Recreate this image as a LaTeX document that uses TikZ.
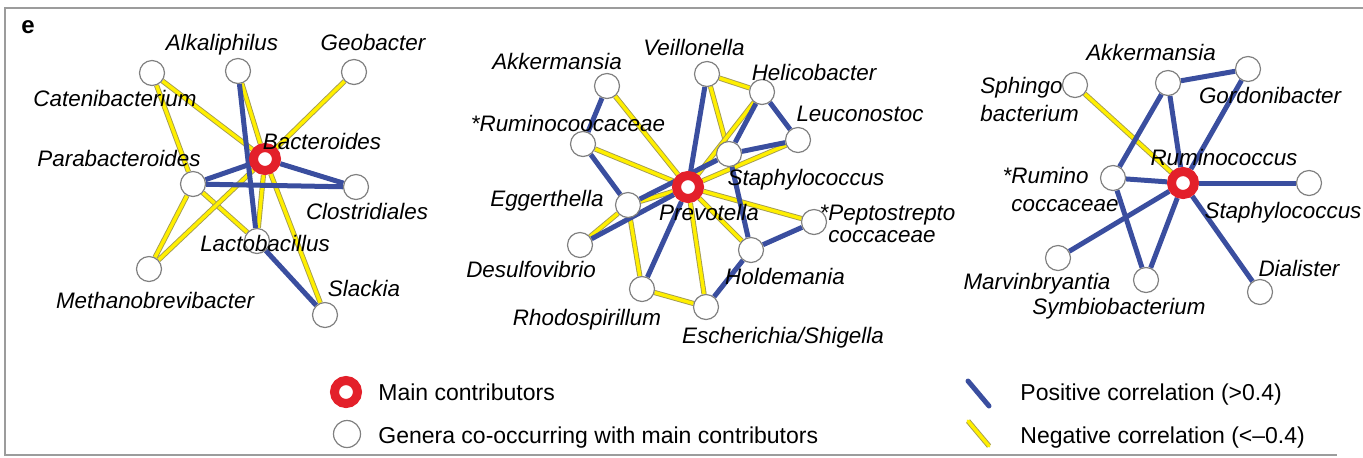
\documentclass[tikz,border=0pt]{standalone}
\usepackage{fontspec}
\setmainfont{Liberation Sans}
\usetikzlibrary{backgrounds}
\definecolor{posblue}{HTML}{3A4E9F}
\definecolor{negyellow}{HTML}{FFEF00}
\definecolor{negedge}{HTML}{A39B52}
\definecolor{mainred}{HTML}{E3202A}
\definecolor{ringgray}{HTML}{808080}
\definecolor{framegray}{HTML}{9C9C9C}

\begin{document}
\begin{tikzpicture}[x=0.5pt, y=-0.5pt,
  genus/.style={font=\fontsize{11.2}{14}\selectfont\itshape, inner sep=0pt, text height=8pt, text depth=0pt},
  genustwo/.style={font=\fontsize{11.2}{14}\selectfont\itshape, inner sep=0pt, align=left, anchor=north west},
  keytext/.style={font=\fontsize{11.5}{14}\selectfont, inner sep=0pt, anchor=west, text height=8.2pt, text depth=0pt},
  main/.style={circle, draw=mainred, line width=4.5pt, fill=white, minimum size=11.5pt, inner sep=0pt},
  gen/.style={circle, draw=ringgray, line width=0.6pt, fill=white, minimum size=12.5pt, inner sep=0pt},
  posline/.style={draw=posblue, line width=2.5pt},
  negline/.style={draw=negyellow, line width=1.7pt, preaction={draw=negedge, line width=2.6pt}},
]
  \useasboundingbox (0,0) rectangle (1363,457);
  % panel frame, open on the right
  \draw[framegray, line width=1pt] (1363,8) -- (5,8) -- (5,455) -- (1337,455);
  \node[font=\fontsize{12}{14}\selectfont\bfseries, inner sep=0pt] (tag) at (28,27) {e};

  % network 1: Bacteroides
  \node[main] (bact) at (265,159) {};
  \node[gen] (cate) at (152,73) {};
  \node[gen] (alka) at (238,71) {};
  \node[gen] (geob) at (354,72) {};
  \node[gen] (para) at (193,184) {};
  \node[gen] (clos) at (356,187) {};
  \node[gen] (lact) at (257,241) {};
  \node[gen] (meth) at (149,269) {};
  \node[gen] (slac) at (325,315) {};
  \node[genus] at (222,42) {Alkaliphilus};
  \node[genus] at (373,42) {Geobacter};
  \node[genus] at (115,98) {Catenibacterium};
  \node[genus] at (322,141) {Bacteroides};
  \node[genus] at (119,158) {Parabacteroides};
  \node[genus] at (367,211) {Clostridiales};
  \node[genus] at (265,243) {Lactobacillus};
  \node[genus] at (155,300) {Methanobrevibacter};
  \node[genus] at (364,288) {Slackia};

  % network 2: Prevotella
  \node[main] (prev) at (688,187) {};
  \node[gen] (akkA) at (607,86) {};
  \node[gen] (veil) at (707,74) {};
  \node[gen] (heli) at (762,92) {};
  \node[gen] (rumA) at (583,144) {};
  \node[gen] (leuc) at (798,140) {};
  \node[gen] (staA) at (729,154) {};
  \node[gen] (egge) at (628,205) {};
  \node[gen] (pept) at (814,222) {};
  \node[gen] (desu) at (580,245) {};
  \node[gen] (hold) at (751,250) {};
  \node[gen] (rhod) at (642,289) {};
  \node[gen] (esch) at (706,307) {};
  \node[genus] at (557,61) {Akkermansia};
  \node[genus] at (694,47) {Veillonella};
  \node[genus] at (814,72) {Helicobacter};
  \node[genus] at (568,123) {*Ruminocoocaceae};
  \node[genus] at (860,113) {Leuconostoc};
  \node[genus] at (806,177) {Staphylococcus};
  \node[genus] at (547,198) {Eggerthella};
  \node[genus] at (709,212) {Prevotella};
  \node[genustwo] at (828,205) {\llap{*}Peptostrepto\\[-3pt]coccaceae};
  \node[genus] at (531,269) {Desulfovibrio};
  \node[genus] at (785,276) {Holdemania};
  \node[genus] at (587,317) {Rhodospirillum};
  \node[genus] at (783,335) {Escherichia/Shigella};

  % network 3: Ruminococcus
  \node[main] (rumi) at (1183,183) {};
  \node[gen] (sphi) at (1075,85) {};
  \node[gen] (akkB) at (1168,83) {};
  \node[gen] (gord) at (1248,69) {};
  \node[gen] (rumB) at (1113,178) {};
  \node[gen] (staB) at (1309,183) {};
  \node[gen] (marv) at (1058,258) {};
  \node[gen] (symb) at (1146,280) {};
  \node[gen] (dial) at (1260,292) {};
  \node[genus] at (1151,52) {Akkermansia};
  \node[genustwo] at (980,77) {Sphingo\\bacterium};
  \node[genus] at (1270,95) {Gordonibacter};
  \node[genus] at (1224,157) {Ruminococcus};
  \node[genustwo] at (1011,167) {\llap{*}Rumino\\coccaceae};
  \node[genus] at (1283,210) {Staphylococcus};
  \node[genus] at (1037,281) {Marvinbryantia};
  \node[genus] at (1119,306) {Symbiobacterium};
  \node[genus] at (1299,268) {Dialister};

  % correlations, behind the circles
  \begin{scope}[on background layer]
    \draw[negline] (cate) -- (bact);
    \draw[negline] (cate) -- (para);
    \draw[negline] (alka) -- (bact);
    \draw[negline] (geob) -- (bact);
    \draw[negline] (para) -- (meth);
    \draw[negline] (para) -- (lact);
    \draw[negline] (bact) -- (meth);
    \draw[negline] (bact) -- (lact);
    \draw[negline] (bact) -- (slac);
    \draw[posline] (alka) -- (lact);
    \draw[posline] (para) -- (bact);
    \draw[posline] (para) -- (clos);
    \draw[posline] (bact) -- (clos);
    \draw[posline] (lact) -- (slac);

    \draw[negline] (akkA) -- (prev);
    \draw[negline] (rumA) -- (prev);
    \draw[negline] (veil) -- (heli);
    \draw[negline] (veil) -- (staA);
    \draw[negline] (heli) -- (prev);
    \draw[negline] (leuc) -- (prev);
    \draw[negline] (prev) -- (pept);
    \draw[negline] (prev) -- (hold);
    \draw[negline] (prev) -- (esch);
    \draw[negline] (egge) -- (prev);
    \draw[negline] (egge) -- (desu);
    \draw[negline] (egge) -- (rhod);
    \draw[negline] (rhod) -- (esch);
    \draw[posline] (akkA) -- (rumA);
    \draw[posline] (rumA) -- (egge);
    \draw[posline] (veil) -- (prev);
    \draw[posline] (heli) -- (staA);
    \draw[posline] (heli) -- (leuc);
    \draw[posline] (leuc) -- (staA);
    \draw[posline] (egge) -- (staA);
    \draw[posline] (desu) -- (prev);
    \draw[posline] (prev) -- (rhod);
    \draw[posline] (staA) -- (hold);
    \draw[posline] (esch) -- (hold);
    \draw[posline] (hold) -- (pept);

    \draw[negline] (sphi) -- (rumi);
    \draw[posline] (akkB) -- (gord);
    \draw[posline] (akkB) -- (rumB);
    \draw[posline] (akkB) -- (rumi);
    \draw[posline] (gord) -- (rumi);
    \draw[posline] (rumB) -- (rumi);
    \draw[posline] (rumB) -- (symb);
    \draw[posline] (rumi) -- (staB);
    \draw[posline] (rumi) -- (marv);
    \draw[posline] (rumi) -- (symb);
    \draw[posline] (rumi) -- (dial);
  \end{scope}

  % key
  \node[main] (keymain) at (346,392) {};
  \node[gen, minimum size=13.5pt] (keygen) at (347,434) {};
  \node[keytext] at (378,392) {Main contributors};
  \node[keytext] at (378,435) {Genera co-occurring with main contributors};
  \coordinate (posa) at (968,381);
  \coordinate (posb) at (989,406);
  \coordinate (nega) at (968,421);
  \coordinate (negb) at (989,446);
  \draw[posline, line cap=round] (posa) -- (posb);
  \draw[negline, line cap=round] (nega) -- (negb);
  \node[keytext] at (1020,392) {Positive correlation (>0.4)};
  \node[keytext] at (1020,435) {Negative correlation (<--0.4)};
\end{tikzpicture}
\end{document}
